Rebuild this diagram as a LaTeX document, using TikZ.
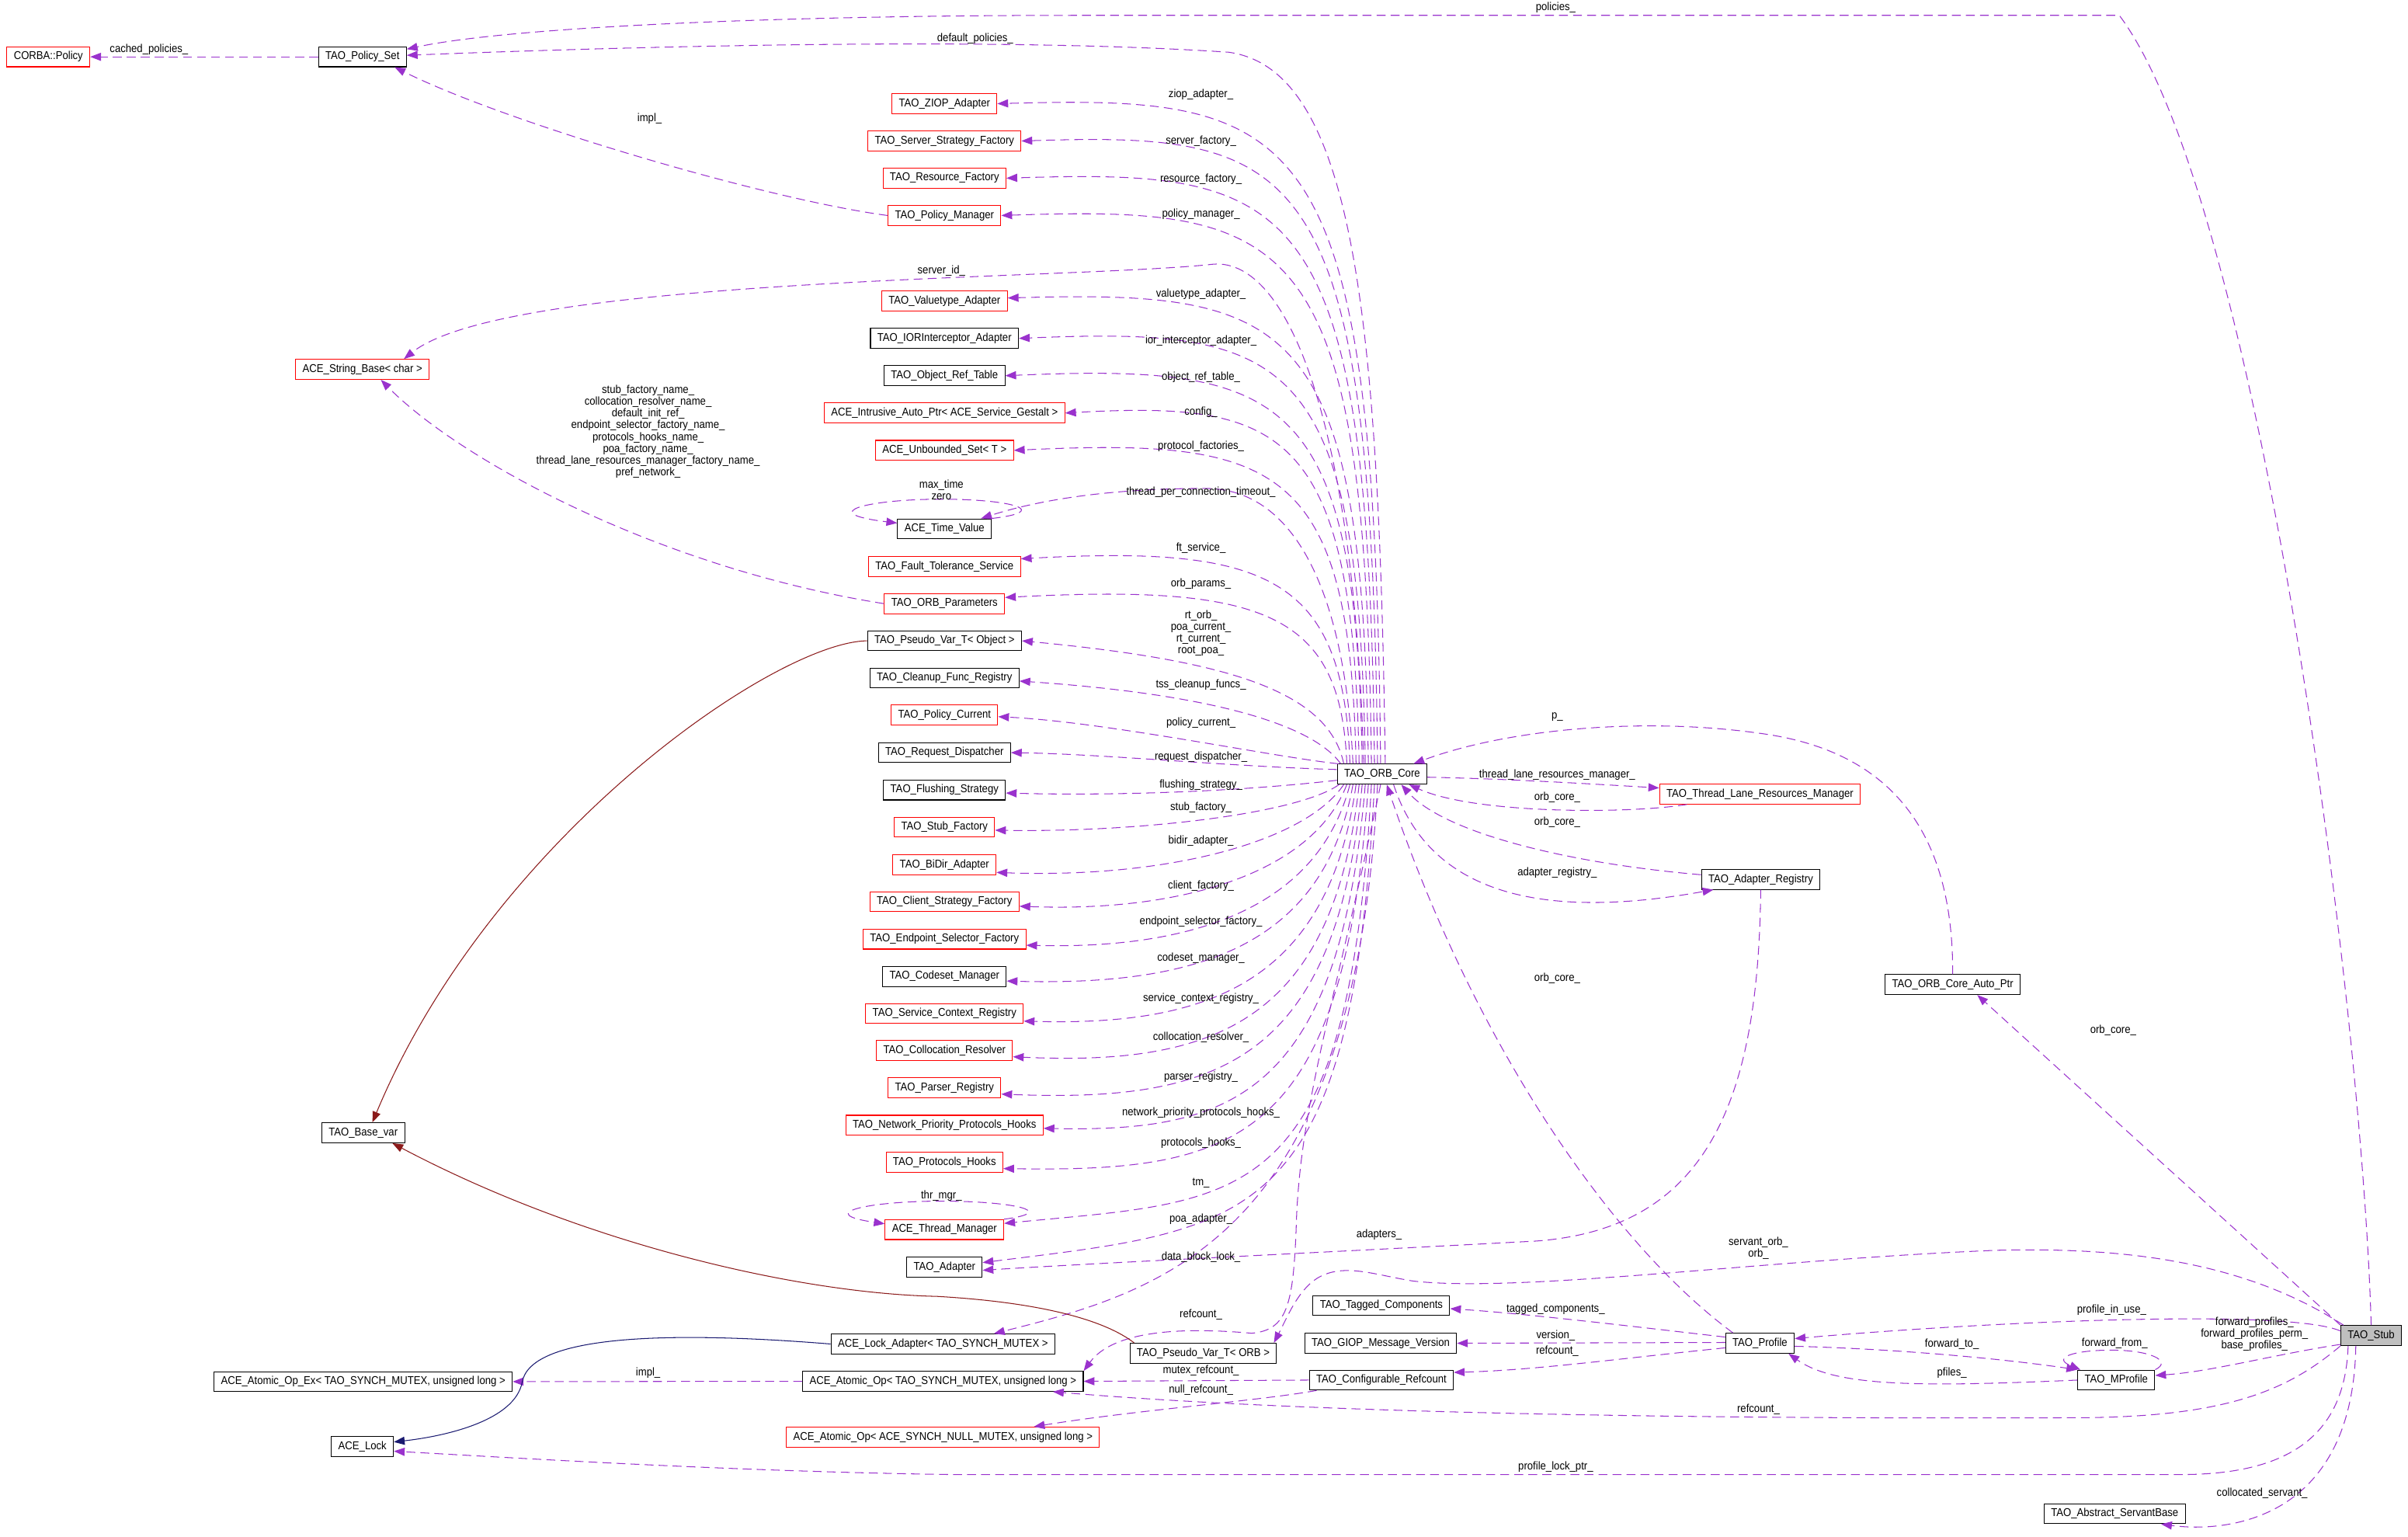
\documentclass[tikz,border=0pt]{standalone}
\usepackage{fontspec}
\setmainfont{Liberation Sans}[FakeStretch=0.9]
\usetikzlibrary{arrows.meta,calc}
\definecolor{edgepurple}{HTML}{9A32CD}
\definecolor{inhred}{HTML}{8B1A1A}
\definecolor{inhblue}{HTML}{191970}
\definecolor{stubgray}{HTML}{BFBFBF}

\begin{document}
\begin{tikzpicture}[x=0.02cm,y=-0.02cm,
  every node/.style={font=\fontsize{4.2}{4.32}\selectfont},
  cls/.style={draw,rectangle,inner xsep=0.09cm,inner ysep=0pt,minimum height=0.26cm,line width=0.3pt},
  redcls/.style={cls,draw=red},
  lbl/.style={inner sep=0pt,align=center},
  usage/.style={draw=edgepurple,line width=0.3pt,dash pattern=on 3.3pt off 1.9pt,-{Triangle[length=4pt,width=3pt]}},
  privinh/.style={draw=inhred,line width=0.3pt,-{Triangle[length=4pt,width=3pt]}},
  pubinh/.style={draw=inhblue,line width=0.3pt,-{Triangle[length=4pt,width=3pt]}}]
\useasboundingbox (0,0) rectangle (1568,1000.6);

% classes on the left
\node[redcls] (corbapolicy) at (31.5,37) {CORBA::Policy};
\node[cls] (policyset) at (236,37) {TAO\_Policy\_Set};
\node[redcls] (stringbase) at (236,240.5) {ACE\_String\_Base< char >};
\node[cls] (basevar) at (236.5,737.5) {TAO\_Base\_var};
\node[cls] (atomicex) at (236.5,899.5) {ACE\_Atomic\_Op\_Ex< TAO\_SYNCH\_MUTEX, unsigned long >};
\node[cls] (acelock) at (236,941.8) {ACE\_Lock};

% members of the ORB core
\node[redcls] (ziop) at (615,67.5) {TAO\_ZIOP\_Adapter};
\node[redcls] (serverfactory) at (615,91.8) {TAO\_Server\_Strategy\_Factory};
\node[redcls] (resourcefactory) at (615,116) {TAO\_Resource\_Factory};
\node[redcls] (policymanager) at (615,140.3) {TAO\_Policy\_Manager};
\node[redcls] (valuetype) at (615,196) {TAO\_Valuetype\_Adapter};
\node[cls] (iorinterceptor) at (615,220.3) {TAO\_IORInterceptor\_Adapter};
\node[cls] (objectreftable) at (615,244.6) {TAO\_Object\_Ref\_Table};
\node[redcls] (intrusiveptr) at (615,268.9) {ACE\_Intrusive\_Auto\_Ptr< ACE\_Service\_Gestalt >};
\node[redcls] (unboundedset) at (615,293.2) {ACE\_Unbounded\_Set< T >};
\node[cls] (timevalue) at (615,344.3) {ACE\_Time\_Value};
\node[redcls] (ftservice) at (615,368.8) {TAO\_Fault\_Tolerance\_Service};
\node[redcls] (orbparams) at (615,393) {TAO\_ORB\_Parameters};
\node[cls] (pvobject) at (615,417.2) {TAO\_Pseudo\_Var\_T< Object >};
\node[cls] (cleanup) at (615,441.4) {TAO\_Cleanup\_Func\_Registry};
\node[redcls] (policycurrent) at (615,465.6) {TAO\_Policy\_Current};
\node[cls] (reqdispatcher) at (615,490) {TAO\_Request\_Dispatcher};
\node[cls] (flushing) at (615,514.3) {TAO\_Flushing\_Strategy};
\node[redcls] (stubfactory) at (615,538.5) {TAO\_Stub\_Factory};
\node[redcls] (bidir) at (615,563) {TAO\_BiDir\_Adapter};
\node[redcls] (clientfactory) at (615,587) {TAO\_Client\_Strategy\_Factory};
\node[redcls] (endpointsel) at (615,611.4) {TAO\_Endpoint\_Selector\_Factory};
\node[cls] (codeset) at (615,635.7) {TAO\_Codeset\_Manager};
\node[redcls] (servicecontext) at (615,659.8) {TAO\_Service\_Context\_Registry};
\node[redcls] (collocation) at (615,684) {TAO\_Collocation\_Resolver};
\node[redcls] (parser) at (615,708.3) {TAO\_Parser\_Registry};
\node[redcls] (netpriority) at (615,732.6) {TAO\_Network\_Priority\_Protocols\_Hooks};
\node[redcls] (protohooks) at (615,756.8) {TAO\_Protocols\_Hooks};
\node[redcls] (threadmgr) at (615,800.5) {ACE\_Thread\_Manager};
\node[cls] (adapter) at (615,825) {TAO\_Adapter};
\node[cls] (lockadapter) at (614,875) {ACE\_Lock\_Adapter< TAO\_SYNCH\_MUTEX >};
\node[cls] (atomicop) at (614,899.3) {ACE\_Atomic\_Op< TAO\_SYNCH\_MUTEX, unsigned long >};
\node[redcls] (atomicnull) at (614,935.6) {ACE\_Atomic\_Op< ACE\_SYNCH\_NULL\_MUTEX, unsigned long >};
\node[cls] (pvorb) at (783.5,881) {TAO\_Pseudo\_Var\_T< ORB >};

% right part
\node[cls] (orbcore) at (900,504) {TAO\_ORB\_Core};
\node[redcls] (tlrm) at (1146,517) {TAO\_Thread\_Lane\_Resources\_Manager};
\node[cls] (adapterreg) at (1146.5,572.5) {TAO\_Adapter\_Registry};
\node[cls] (autoptr) at (1271.5,641) {TAO\_ORB\_Core\_Auto\_Ptr};
\node[cls] (tagged) at (899.5,850) {TAO\_Tagged\_Components};
\node[cls] (giop) at (899,874.5) {TAO\_GIOP\_Message\_Version};
\node[cls] (confrefcount) at (899.5,898.5) {TAO\_Configurable\_Refcount};
\node[cls] (profile) at (1146,874.5) {TAO\_Profile};
\node[cls] (mprofile) at (1378,898.5) {TAO\_MProfile};
\node[cls,fill=stubgray] (stub) at (1544,869.5) {TAO\_Stub};
\node[cls] (servantbase) at (1377,985.5) {TAO\_Abstract\_ServantBase};

% ORB core, upwards
\draw[usage] ($(orbcore.north)+(-1,0)$) .. controls (895,77) and (849,62) .. (ziop.east);
\draw[usage] ($(orbcore.north)+(-3,0)$) .. controls (893,101) and (847,86) .. (serverfactory.east);
\draw[usage] ($(orbcore.north)+(-5,0)$) .. controls (891,125) and (845,110) .. (resourcefactory.east);
\draw[usage] ($(orbcore.north)+(-7,0)$) .. controls (889,149) and (843,134) .. (policymanager.east);
\draw[usage] ($(orbcore.north)+(-9,0)$) .. controls (887,205) and (841,189) .. ($(valuetype.east)+(0,-2)$);
\draw[usage] ($(orbcore.north)+(-11,0)$) .. controls (885,229) and (839,213) .. (iorinterceptor.east);
\draw[usage] ($(orbcore.north)+(-13,0)$) .. controls (883,254) and (837,237) .. (objectreftable.east);
\draw[usage] ($(orbcore.north)+(-15,0)$) .. controls (881,278) and (835,261) .. (intrusiveptr.east);
\draw[usage] ($(orbcore.north)+(-17,0)$) .. controls (879,302) and (833,285) .. (unboundedset.east);
\draw[usage] ($(orbcore.north)+(-19,0)$) .. controls (876,390) and (845,318) .. (785,318) .. controls (720,318) and (675,326) .. ($(timevalue.north east)+(-7,0)$);
\draw[usage] ($(orbcore.north)+(-21,0)$) .. controls (875,375) and (825,355) .. ($(ftservice.east)+(0,-5)$);
\draw[usage] ($(orbcore.north)+(-23,0)$) .. controls (873,400) and (825,380) .. ($(orbparams.east)+(0,-4)$);
\draw[usage] ($(orbcore.north)+(-25,0)$) .. controls (865,450) and (800,430) .. (pvobject.east);
\draw[usage] ($(orbcore.north)+(-27,0)$) .. controls (855,472) and (790,452) .. ($(cleanup.east)+(0,2)$);
\draw[usage] ($(orbcore.north west)+(1,0)$) .. controls (830,493) and (720,470) .. ($(policycurrent.east)+(0,1)$);
\draw[usage] ($(orbcore.north)+(2,0)$) .. controls (898,200) and (880,45) .. (800,34) .. controls (650,24) and (420,30) .. ($(policyset.east)+(0,-1)$);
\draw[usage] ($(orbcore.north)+(-12,0)$) .. controls (882,280) and (840,168) .. (790,172) .. controls (700,182) and (330,180) .. ($(stringbase.north)+(27,0)$);

% ORB core, downwards
\draw[usage] ($(orbcore.west)+(0,-3)$) .. controls (800,499) and (720,491) .. (reqdispatcher.east);
\draw[usage] ($(orbcore.west)+(0,4)$) .. controls (800,516) and (720,518) .. ($(flushing.east)+(0,2)$);
\draw[usage] ($(orbcore.south)+(-28,0)$) .. controls (845,530) and (740,542) .. ($(stubfactory.east)+(0,2)$);
\draw[usage] ($(orbcore.south)+(-25,0)$) .. controls (850,548) and (760,572) .. ($(bidir.east)+(0,5)$);
\draw[usage] ($(orbcore.south)+(-23,0)$) .. controls (855,568) and (770,594) .. ($(clientfactory.east)+(0,3)$);
\draw[usage] ($(orbcore.south)+(-21,0)$) .. controls (858,592) and (775,618) .. ($(endpointsel.east)+(0,4)$);
\draw[usage] ($(orbcore.south)+(-19,0)$) .. controls (862,616) and (780,642) .. ($(codeset.east)+(0,3)$);
\draw[usage] ($(orbcore.south)+(-17,0)$) .. controls (865,641) and (785,668) .. ($(servicecontext.east)+(0,5)$);
\draw[usage] ($(orbcore.south)+(-15,0)$) .. controls (868,666) and (790,694) .. ($(collocation.east)+(0,4)$);
\draw[usage] ($(orbcore.south)+(-13,0)$) .. controls (870,690) and (795,718) .. ($(parser.east)+(0,4)$);
\draw[usage] ($(orbcore.south)+(-11,0)$) .. controls (872,715) and (800,737) .. ($(netpriority.east)+(0,2)$);
\draw[usage] ($(orbcore.south)+(-9,0)$) .. controls (875,745) and (805,763) .. ($(protohooks.east)+(0,4)$);
\draw[usage] ($(orbcore.south)+(-7,0)$) .. controls (878,790) and (810,781) .. ($(threadmgr.east)+(0,-4)$);
\draw[usage] ($(orbcore.south)+(-5,0)$) .. controls (880,800) and (815,800) .. ($(adapter.east)+(0,-3)$);
\draw[usage] ($(orbcore.south)+(-3,0)$) .. controls (882,805) and (760,840) .. ($(lockadapter.north east)+(-40,0)$);
\draw[usage] ($(orbcore.south)+(-1,0)$) .. controls (870,650) and (846,720) .. (844,800) .. controls (842,850) and (838,866) .. (815,868) .. controls (770,864) and (725,866) .. (atomicop.north east);

% ORB core and its neighbours
\draw[usage] ($(orbcore.east)+(0,2)$) .. controls (980,507) and (1030,510) .. ($(tlrm.west)+(0,-4)$);
\draw[usage] ($(tlrm.south west)+(18,0)$) .. controls (1060,530) and (960,530) .. ($(orbcore.south east)+(-12,0)$);
\draw[usage] ($(adapterreg.west)+(0,-3)$) .. controls (1020,562) and (940,542) .. ($(orbcore.south east)+(-17,0)$);
\draw[usage] ($(orbcore.south east)+(-22,0)$) .. controls (930,580) and (1000,600) .. ($(adapterreg.south west)+(8,0)$);
\draw[usage] (autoptr.north) .. controls (1272,540) and (1230,490) .. (1150,478) .. controls (1070,466) and (980,475) .. ($(orbcore.north east)+(-9,0)$);
\draw[usage] ($(profile.north west)+(5,0)$) .. controls (1050,810) and (960,680) .. ($(orbcore.south)+(3,0)$);
\draw[usage] (adapterreg.south) .. controls (1145,720) and (1110,800) .. (1000,808) .. controls (850,816) and (720,822) .. ($(adapter.east)+(0,2)$);

% policies and strings
\draw[usage] (policyset.west) -- (corbapolicy.east);
\draw[usage] (policymanager.west) .. controls (500,130) and (330,80) .. ($(policyset.south)+(21,0)$);
\draw[usage] (orbparams.west) .. controls (430,370) and (300,300) .. ($(stringbase.south)+(12,0)$);
\draw[usage] (atomicop.west) -- (atomicex.east);
\draw[usage] (timevalue.north east) .. controls (685,333) and (660,325) .. (613,325) .. controls (565,325) and (530,334) .. ($(timevalue.north west)+(0,3)$);
\draw[usage] (threadmgr.north east) .. controls (690,789) and (660,782) .. (613,782) .. controls (565,782) and (530,790) .. ($(threadmgr.north west)+(0,3)$);

% inheritance
\draw[privinh] (pvobject.west) .. controls (505,418) and (320,545) .. ($(basevar.north)+(6,0)$);
\draw[privinh] ($(pvorb.north west)+(3,0)$) .. controls (720,860) and (680,848) .. (610,844) .. controls (520,842) and (380,810) .. ($(basevar.south)+(19,0)$);
\draw[pubinh] (lockadapter.west) .. controls (430,866) and (345,870) .. (340,900) .. controls (335,925) and (290,935) .. ($(acelock.east)+(0,-3)$);

% stub and profiles
\draw[usage] (stub.north) .. controls (1538,650) and (1470,130) .. (1380,10) -- (700,10) .. controls (500,10) and (330,18) .. ($(policyset.east)+(0,-5)$);
\draw[usage] (stub.north west) -- ($(autoptr.south)+(16,0)$);
\draw[usage] ($(stub.north west)+(2,0)$) .. controls (1460,820) and (1380,812) .. (1300,814) .. controls (1150,820) and (990,842) .. (920,834) .. controls (895,830) and (875,822) .. (858,832) .. controls (845,840) and (838,858) .. ($(pvorb.north east)+(-2,0)$);
\draw[usage] ($(stub.west)+(0,-3)$) .. controls (1490,852) and (1300,860) .. ($(profile.east)+(0,-3)$);
\draw[usage] ($(stub.south west)+(0,-1)$) .. controls (1480,882) and (1440,893) .. ($(mprofile.east)+(0,-3)$);
\draw[usage] (stub.south west) .. controls (1490,905) and (1450,923) .. (1350,923) .. controls (1100,924) and (850,920) .. ($(atomicop.south east)+(-20,0)$);
\draw[usage] ($(stub.south)+(-15,0)$) .. controls (1527,935) and (1490,960) .. (1420,960) -- (620,960) .. controls (480,958) and (350,950) .. ($(acelock.east)+(0,3)$);
\draw[usage] ($(stub.south)+(-10,0)$) .. controls (1532,990) and (1450,998) .. ($(servantbase.south east)+(-16,0)$);
\draw[usage] (mprofile.north east) .. controls (1415,886) and (1400,879) .. (1375,879) .. controls (1350,879) and (1336,884) .. ($(mprofile.north west)+(2,0)$);
\draw[usage] ($(profile.east)+(0,2)$) .. controls (1230,878) and (1300,884) .. (mprofile.north west);
\draw[usage] (mprofile.west) .. controls (1250,903) and (1195,903) .. ($(profile.south east)+(-4,0)$);
\draw[usage] ($(profile.west)+(0,-4)$) .. controls (1050,862) and (990,855) .. ($(tagged.east)+(0,2)$);
\draw[usage] ($(profile.west)+(0,-0.5)$) -- (giop.east);
\draw[usage] ($(profile.west)+(0,3)$) .. controls (1050,885) and (1000,892) .. ($(confrefcount.east)+(0,-5)$);
\draw[usage] (confrefcount.west) -- (atomicop.east);
\draw[usage] ($(confrefcount.south west)+(5,0)$) .. controls (820,912) and (740,918) .. ($(atomicnull.north east)+(-43,0)$);

% labels
\node[lbl] (lpolicies) at (1013,5) {policies\_};
\node[lbl] (ldefpol) at (635,25) {default\_policies\_};
\node[lbl] (lcached) at (97,32) {cached\_policies\_};
\node[lbl] (limplpm) at (423,77) {impl\_};
\node[lbl] (lziop) at (782,61.5) {ziop\_adapter\_};
\node[lbl] (lserverf) at (782,92) {server\_factory\_};
\node[lbl] (lresf) at (782,116.5) {resource\_factory\_};
\node[lbl] (lpolmgr) at (782,139.5) {policy\_manager\_};
\node[lbl] (lserverid) at (613,176.5) {server\_id\_};
\node[lbl] (lvaluetype) at (782,191.5) {valuetype\_adapter\_};
\node[lbl] (lior) at (782,222) {ior\_interceptor\_adapter\_};
\node[lbl] (lort) at (782,245.5) {object\_ref\_table\_};
\node[lbl] (lconfig) at (782,268.5) {config\_};
\node[lbl] (lprotfact) at (782,290.5) {protocol\_factories\_};
\node[lbl] (lnames) at (422,281) {stub\_factory\_name\_\\collocation\_resolver\_name\_\\default\_init\_ref\_\\endpoint\_selector\_factory\_name\_\\protocols\_hooks\_name\_\\poa\_factory\_name\_\\thread\_lane\_resources\_manager\_factory\_name\_\\pref\_network\_};
\node[lbl] (lmaxtime) at (613,319) {max\_time\\zero};
\node[lbl] (ltpct) at (782,320.5) {thread\_per\_connection\_timeout\_};
\node[lbl] (lft) at (782,357) {ft\_service\_};
\node[lbl] (lorbparams) at (782,380) {orb\_params\_};
\node[lbl] (lpoa) at (782,412.3) {rt\_orb\_\\poa\_current\_\\rt\_current\_\\root\_poa\_};
\node[lbl] (ltss) at (782,446) {tss\_cleanup\_funcs\_};
\node[lbl] (lpolcur) at (782,470.5) {policy\_current\_};
\node[lbl] (lreqd) at (782,493) {request\_dispatcher\_};
\node[lbl] (lflush) at (782,511) {flushing\_strategy\_};
\node[lbl] (lstubf) at (782,525.8) {stub\_factory\_};
\node[lbl] (lbidir) at (782,547.7) {bidir\_adapter\_};
\node[lbl] (lclientf) at (782,577) {client\_factory\_};
\node[lbl] (lendpoint) at (782,600) {endpoint\_selector\_factory\_};
\node[lbl] (lcodeset) at (782,624) {codeset\_manager\_};
\node[lbl] (lservctx) at (782,650) {service\_context\_registry\_};
\node[lbl] (lcolloc) at (782,675.4) {collocation\_resolver\_};
\node[lbl] (lparser) at (782,701) {parser\_registry\_};
\node[lbl] (lnetprio) at (782,724.6) {network\_priority\_protocols\_hooks\_};
\node[lbl] (lprothooks) at (782,744) {protocols\_hooks\_};
\node[lbl] (ltm) at (782,770) {tm\_};
\node[lbl] (lthrmgr) at (613,778.5) {thr\_mgr\_};
\node[lbl] (lpoaad) at (782,793.7) {poa\_adapter\_};
\node[lbl] (ldblock) at (782,818.6) {data\_block\_lock\_};
\node[lbl] (lrefcore) at (782,856) {refcount\_};
\node[lbl] (lmutex) at (782,892.5) {mutex\_refcount\_};
\node[lbl] (lnull) at (782,905) {null\_refcount\_};
\node[lbl] (limplat) at (422,894) {impl\_};
\node[lbl] (ladapters) at (898,804) {adapters\_};
\node[lbl] (lservorb) at (1145,812.5) {servant\_orb\_\\orb\_};
\node[lbl] (ltagged) at (1013,852.5) {tagged\_components\_};
\node[lbl] (lversion) at (1013,869.5) {version\_};
\node[lbl] (lrefprof) at (1014,879.6) {refcount\_};
\node[lbl] (lprofuse) at (1375,853) {profile\_in\_use\_};
\node[lbl] (lfwdto) at (1271,875) {forward\_to\_};
\node[lbl] (lfwdfrom) at (1377,874.5) {forward\_from\_};
\node[lbl] (lpfiles) at (1271,894) {pfiles\_};
\node[lbl] (lfwdprof) at (1468,868.5) {forward\_profiles\_\\forward\_profiles\_perm\_\\base\_profiles\_};
\node[lbl] (lrefstub) at (1145,917.5) {refcount\_};
\node[lbl] (lproflock) at (1013,955) {profile\_lock\_ptr\_};
\node[lbl] (lcolloserv) at (1473,972) {collocated\_servant\_};
\node[lbl] (lorbcorestub) at (1376,671) {orb\_core\_};
\node[lbl] (lp) at (1014,466.8) {p\_};
\node[lbl] (ltlrm) at (1014,504.6) {thread\_lane\_resources\_manager\_};
\node[lbl] (lorbcoretl) at (1014,519.3) {orb\_core\_};
\node[lbl] (lorbcoreadr) at (1014,535.4) {orb\_core\_};
\node[lbl] (ladreg) at (1014,568.3) {adapter\_registry\_};
\node[lbl] (lorbcoreprof) at (1014,637) {orb\_core\_};
\end{tikzpicture}
\end{document}
